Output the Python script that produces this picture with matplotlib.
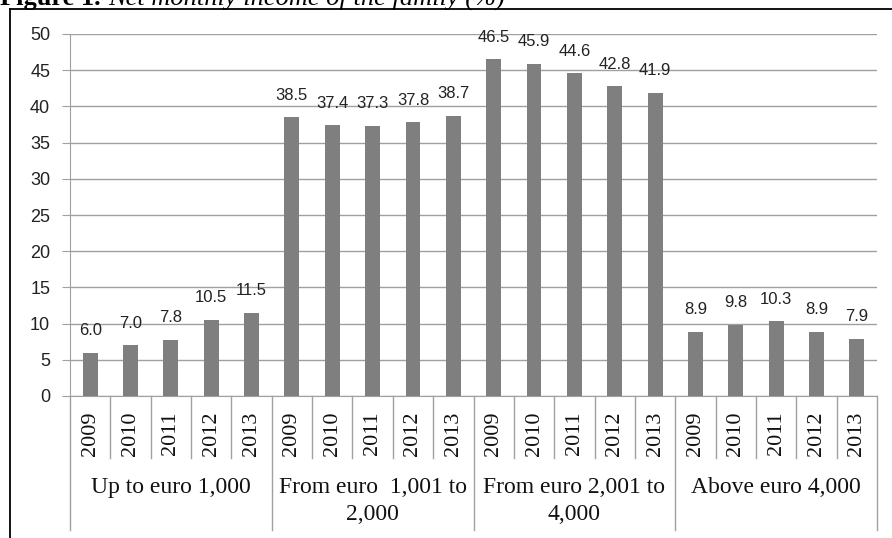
import matplotlib
matplotlib.use("Agg")
import matplotlib.pyplot as plt
import numpy as np

groups = ["Up to euro 1,000", "From euro  1,001 to\n2,000",
          "From euro 2,001 to\n4,000", "Above euro 4,000"]
years = ["2009", "2010", "2011", "2012", "2013"]
values = [6.0, 7.0, 7.8, 10.5, 11.5,
          38.5, 37.4, 37.3, 37.8, 38.7,
          46.5, 45.9, 44.6, 42.8, 41.9,
          8.9, 9.8, 10.3, 8.9, 7.9]
y_ticks = [0, 5, 10, 15, 20, 25, 30, 35, 40, 45, 50]

W, H = 892, 538
serif = "Liberation Serif"
sans = "Liberation Sans"
grey = "#a0a0a0"


def main():
    fig = plt.figure(figsize=(W / 100, H / 100), dpi=100)
    x0, x1, ytop, ybot = 70, 877, 34, 396
    ax = fig.add_axes([x0 / W, 1 - ybot / H, (x1 - x0) / W, (ybot - ytop) / H])
    ax_h = ybot - ytop

    x = np.arange(len(values))
    ax.bar(x, values, width=0.37, color="#7f7f7f", zorder=3)
    for xi, v in zip(x, values):
        ax.annotate(f"{v:.1f}", (xi, v), xytext=(0, 10.5), textcoords="offset points",
                    ha="center", va="bottom", fontsize=12, family=sans,
                    color="#222222", zorder=4)

    ax.set_xlim(-0.5, len(values) - 0.5)
    ax.set_ylim(0, 50)
    ax.set_yticks(y_ticks)
    ax.set_yticklabels([str(t) for t in y_ticks], family=sans)
    ax.tick_params(axis="y", length=5.8, color=grey, labelsize=13, pad=8.5,
                   labelcolor="#222222")
    ax.yaxis.grid(True, color=grey, linewidth=1)
    ax.set_axisbelow(True)
    for s in ["top", "right"]:
        ax.spines[s].set_visible(False)
    for s in ["left", "bottom"]:
        ax.spines[s].set_color(grey)

    # year labels (inner level)
    ax.set_xticks(x, years * len(groups), rotation=90, fontsize=16, family=serif)
    ax.tick_params(axis="x", length=0, pad=11, labelcolor="#111111")

    # category axis separators
    trans = ax.get_xaxis_transform()
    short = -(458 - ybot) / ax_h
    long_ = -(530 - ybot) / ax_h
    n = len(years)
    for b in np.arange(0.5, len(values) - 1, 1.0):
        if (b + 0.5) % n == 0:
            continue
        ax.plot([b, b], [0, short], transform=trans, color=grey, lw=1, clip_on=False)
    for b in np.arange(-0.5, len(values), n):
        ax.plot([b, b], [0, long_], transform=trans, color=grey, lw=1, clip_on=False)

    # group labels (outer level)
    for i, g in enumerate(groups):
        ax.text(i * n + (n - 1) / 2, -(477 - ybot) / ax_h, g, transform=trans,
                ha="center", va="top", fontsize=17, family=serif,
                linespacing=1.35, color="#111111")

    # frame and clipped caption (only its lower edge is visible in the source)
    fig.add_artist(plt.Line2D([10 / W, 1], [1 - 8.5 / H] * 2, color="black", lw=1.3))
    fig.add_artist(plt.Line2D([10 / W] * 2, [0, 1 - 8.5 / H], color="black", lw=1.3))
    fig.text(0.0, 1 - 5 / H, "Figure 1.", fontsize=19, weight="bold", family=serif,
             va="baseline", ha="left")
    fig.text(108 / W, 1 - 5 / H, "Net monthly income of the family (%)", fontsize=19,
             style="italic", family=serif, va="baseline", ha="left")

    fig.savefig("out.png", dpi=100)


if __name__ == '__main__':
    main()
